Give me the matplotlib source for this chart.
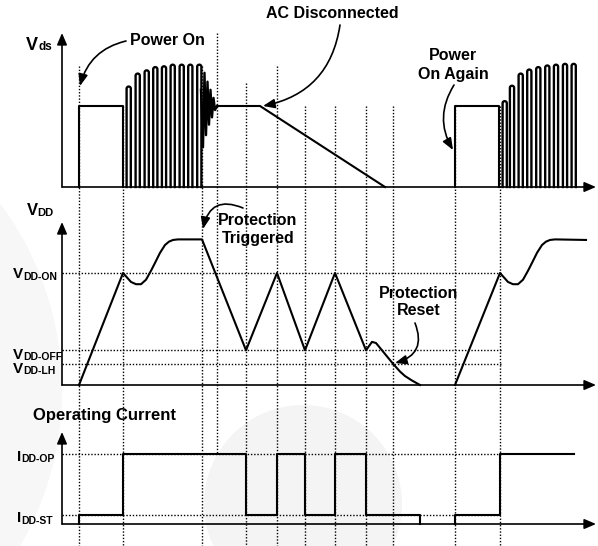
import numpy as np
import matplotlib
matplotlib.use("Agg")
import matplotlib.pyplot as plt
from matplotlib.patches import FancyArrowPatch, Circle

plt.rcParams['font.family'] = ['Liberation Sans', 'DejaVu Sans']

# ------------------------------------------------------------------ data
# time instants of the vertical dotted markers (time axis, arbitrary units)
event_t = [79, 123, 202, 217, 246, 277, 305, 335, 366, 393, 455, 500]

# Vds (normalised, 1.0 = bulk voltage level)
vds_box1_t = [79, 79, 123, 123]
vds_box1_v = [0, 1.0, 1.0, 0]
pulse1_t = [128.7, 137.7, 146.7, 155.3, 164.0, 172.7, 181.7, 190.3, 199.3]
pulse1_peak = [1.24, 1.40, 1.44, 1.48, 1.49, 1.51, 1.51, 1.51, 1.51]
ring_t = [201, 203, 204.5, 206, 207.5, 209, 210.5, 212, 213.5, 215, 217]
ring_v = [1.20, 0.49, 1.41, 0.64, 1.30, 0.77, 1.20, 0.86, 1.10, 0.95, 1.0]
vds_dis_t = [217, 260, 385]
vds_dis_v = [1.0, 1.0, 0.0]
vds_box2_t = [455, 455, 499, 499]
vds_box2_v = [0, 1.0, 1.0, 0]
pulse2_t = [504.7, 512.0, 520.7, 529.3, 538.3, 547.3, 556.0, 565.0, 573.7]
pulse2_peak = [1.06, 1.25, 1.40, 1.45, 1.48, 1.50, 1.51, 1.52, 1.52]

# VDD (normalised, VDD-ON = 1.0)
VDD_ON, VDD_OFF, VDD_LH = 1.0, 0.31, 0.19
vdd1_t = [79, 123, 127, 131, 136, 141, 146, 151, 155, 160, 165, 169, 173, 178, 202,
          246, 277, 305, 335, 366, 372, 376, 393, 400, 405, 412, 420]
vdd1_v = [0, 1.0, 0.96, 0.92, 0.90, 0.90, 0.94, 1.02, 1.09, 1.18, 1.25, 1.28, 1.295, 1.30, 1.30,
          0.31, 1.0, 0.31, 1.0, 0.31, 0.385, 0.375, 0.19, 0.12, 0.08, 0.04, 0]
vdd2_t = [455, 500, 504, 508, 513, 518, 523, 528, 532, 537, 542, 546, 550, 555, 586]
vdd2_v = [0, 1.0, 0.96, 0.92, 0.90, 0.90, 0.94, 1.02, 1.09, 1.18, 1.25, 1.28, 1.295, 1.30, 1.295]

# operating current (normalised, IDD-OP = 1.0)
IDD_OP, IDD_ST = 1.0, 0.13
idd1_t = [79, 79, 123, 123, 246, 246, 277, 277, 305, 305, 335, 335, 366, 366, 420, 420]
idd1_v = [0, IDD_ST, IDD_ST, IDD_OP, IDD_OP, IDD_ST, IDD_ST, IDD_OP, IDD_OP, IDD_ST,
          IDD_ST, IDD_OP, IDD_OP, IDD_ST, IDD_ST, 0]
idd2_t = [455, 455, 500, 500, 574]
idd2_v = [0, IDD_ST, IDD_ST, IDD_OP, IDD_OP]

# ------------------------------------------------------------------ layout
W, H = 598, 546
fig = plt.figure(figsize=(W / 100, H / 100), dpi=100)
fig.patch.set_facecolor('white')

ax0 = fig.add_axes([0, 0, 1, 1], label='base')
ax0.set_xlim(0, W)
ax0.set_ylim(H, 0)
ax0.axis('off')

AXIS_X = 62
VDS_BASE, VDS_UNIT, VDS_TOP = 187, 81, 33
VDD_BASE, VDD_UNIT, VDD_TOP = 385, 112, 222
I_BASE, I_UNIT, I_TOP = 524, 70, 432
X_END = 596


def panel(name, base_px, unit_px):
    ax = fig.add_axes([0, 0, 1, 1], label=name)
    ax.set_xlim(0, W)
    ax.set_ylim((base_px - H) / unit_px, base_px / unit_px)
    ax.axis('off')
    ax.patch.set_alpha(0)
    return ax


ax_vds = panel('vds', VDS_BASE, VDS_UNIT)
ax_vdd = panel('vdd', VDD_BASE, VDD_UNIT)
ax_i = panel('idd', I_BASE, I_UNIT)

# faint watermark
ax0.add_patch(Circle((303, 504), 99, facecolor='#f4f4f4', edgecolor='none', zorder=0))
ax0.add_patch(Circle((-250, 390), 312, facecolor='#f7f7f7', edgecolor='none', zorder=0))

LW = 1.5
DOT = dict(color='black', lw=1.0, linestyle=(0, (1.0, 1.3)), zorder=1)

# vertical dotted markers (extent in pixels is layout only)
event_top = [66, 106, 66, 33, 83, 66, 106, 106, 106, 106, 106, 106]
event_bot = [546, 546, 546, 454, 546, 546, 546, 546, 546, 546, 546, 546]
for t, y0, y1 in zip(event_t, event_top, event_bot):
    ax0.plot([t, t], [y0, y1], **DOT)

# axes with arrow heads
def axis_arrows(base, top):
    for a, b in [((AXIS_X, base), (AXIS_X, top)), ((AXIS_X, base), (X_END, base))]:
        ax0.add_patch(FancyArrowPatch(a, b, arrowstyle='-|>,head_length=7,head_width=3.0',
                                      mutation_scale=1, lw=1.2, color='black',
                                      shrinkA=0, shrinkB=0, zorder=3))


axis_arrows(VDS_BASE, VDS_TOP)
axis_arrows(VDD_BASE, VDD_TOP)
axis_arrows(I_BASE, I_TOP)

# ---- Vds panel
ax_vds.plot(vds_box1_t, vds_box1_v, color='black', lw=LW, zorder=4)
ax_vds.plot(vds_box2_t, vds_box2_v, color='black', lw=LW, zorder=4)
ax_vds.plot(vds_dis_t, vds_dis_v, color='black', lw=LW, zorder=4)
ax_vds.plot(ring_t, ring_v, color='black', lw=1.7, zorder=4)

HW = 2.1  # pulse half width (time units)
theta = np.linspace(np.pi, 0, 20)


def pulse(c, peak):
    ry = HW / VDS_UNIT
    xs = np.concatenate([[c - HW], c + HW * np.cos(theta), [c + HW]])
    ys = np.concatenate([[0], peak - ry + ry * np.sin(theta), [0]])
    ax_vds.plot(xs, ys, color='black', lw=1.7, zorder=4, solid_joinstyle='round')


for c, p in zip(pulse1_t, pulse1_peak):
    pulse(c, p)
for c, p in zip(pulse2_t, pulse2_peak):
    pulse(c, p)

# ---- VDD panel
for lvl in (VDD_ON, VDD_OFF, VDD_LH):
    ax_vdd.plot([AXIS_X, 502], [lvl, lvl], **DOT)
ax_vdd.plot(vdd1_t, vdd1_v, color='black', lw=LW, zorder=4, solid_joinstyle='round')
ax_vdd.plot(vdd2_t, vdd2_v, color='black', lw=LW, zorder=4, solid_joinstyle='round')

# ---- current panel
for lvl in (IDD_OP, IDD_ST):
    ax_i.plot([AXIS_X, 500], [lvl, lvl], **DOT)
ax_i.plot(idd1_t, idd1_v, color='black', lw=LW, zorder=4)
ax_i.plot(idd2_t, idd2_v, color='black', lw=LW, zorder=4)

# ------------------------------------------------------------------ text
TK = dict(color='black', fontweight='bold', va='baseline', ha='left')


def sym(x, y, main, sub, size, subsize, dx, dy):
    ax0.text(x, y, main, fontsize=size, **TK)
    ax0.text(x + dx, y + dy, sub, fontsize=subsize, **TK)


sym(26, 50, 'V', 'ds', 13, 8.5, 12.5, 0.5)
sym(27, 215, 'V', 'DD', 12, 8, 10.5, 1.5)
sym(13, 278, 'V', 'DD-ON', 11, 7.5, 10.5, 1.5)
sym(13, 359, 'V', 'DD-OFF', 11, 7.5, 10.5, 1.5)
sym(13, 373, 'V', 'DD-LH', 11, 7.5, 10.5, 1.5)
sym(17, 461, 'I', 'DD-OP', 11, 7.5, 4.5, 1.5)
sym(17, 522, 'I', 'DD-ST', 11, 7.5, 4.5, 1.5)

ax0.text(33, 420, 'Operating Current', fontsize=12, **TK)

TC = dict(color='black', fontweight='bold', va='baseline', ha='center', fontsize=11.5)
ax0.text(167, 45, 'Power On', **TC)
ax0.text(332, 18, 'AC Disconnected', **TC)
ax0.text(453, 60, 'Power', **TC)
ax0.text(453, 79.5, 'On Again', **TC)
ax0.text(258, 225, 'Protection', **TC)
ax0.text(258, 243, 'Triggered', **TC)
ax0.text(419, 298, 'Protection', **TC)
ax0.text(419, 315, 'Reset', **TC)

# annotation arrows
for a, b, rad in [((126, 41), (80, 86), 0.3),
                  ((340, 25), (263, 106), -0.35),
                  ((454, 85), (453, 150), 0.3),
                  ((243, 208), (203, 229), 0.6),
                  ((415, 323), (395, 363), -0.55)]:
    ax0.add_patch(FancyArrowPatch(a, b, arrowstyle='-|>,head_length=7,head_width=2.8',
                                  mutation_scale=1, lw=1.2, color='black',
                                  connectionstyle=f'arc3,rad={rad}',
                                  shrinkA=0, shrinkB=0, zorder=5))

fig.savefig('out.png', dpi=100, facecolor='white')
